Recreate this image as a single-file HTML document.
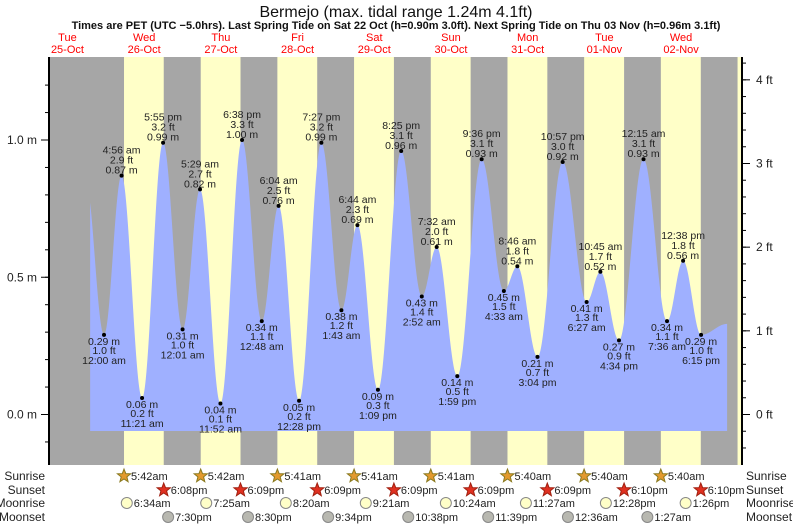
<!DOCTYPE html>
<html><head><meta charset="utf-8"><style>
body{margin:0;background:#fff;}
svg{display:block;font-family:"Liberation Sans",sans-serif;}
</style></head><body>
<svg id="c" width="793" height="525" xmlns="http://www.w3.org/2000/svg">
<text x="396" y="17" text-anchor="middle" font-size="16" fill="#111">Bermejo (max. tidal range 1.24m 4.1ft)</text>
<text x="396" y="29" text-anchor="middle" font-size="11" font-weight="bold" fill="#111">Times are PET (UTC −5.0hrs). Last Spring Tide on Sat 22 Oct (h=0.90m 3.0ft). Next Spring Tide on Thu 03 Nov (h=0.96m 3.1ft)</text>
<g id="bands"></g><g id="fill"></g><g id="marks"></g><g id="axes"></g><g id="bottom"></g>
</svg>
<script>
// data (times as hours since Wed 26-Oct 00:00)
const dayNames=["Tue","Wed","Thu","Fri","Sat","Sun","Mon","Tue","Wed"];
const dayDates=["25-Oct","26-Oct","27-Oct","28-Oct","29-Oct","30-Oct","31-Oct","01-Nov","02-Nov"];
const tideTimes=[-6.3,-0.56,4.93,11.35,17.92,24.02,29.48,35.87,42.63,48.8,54.07,60.47,67.45,73.72,78.73,85.15,92.42,98.87,103.53,109.98,117.6,124.55,128.77,135.07,142.95,150.45,154.75,160.57,168.25,175.6,180.63,186.25,194.4];
const tideValues=[0.85,0.29,0.87,0.06,0.99,0.31,0.82,0.04,1.00,0.34,0.76,0.05,0.99,0.38,0.69,0.09,0.96,0.43,0.61,0.14,0.93,0.45,0.54,0.21,0.92,0.41,0.52,0.27,0.93,0.34,0.56,0.29,0.33];
const tideLabels=["","12:00 am","4:56 am","11:21 am","5:55 pm","12:01 am","5:29 am","11:52 am","6:38 pm","12:48 am","6:04 am","12:28 pm","7:27 pm","1:43 am","6:44 am","1:09 pm","8:25 pm","2:52 am","7:32 am","1:59 pm","9:36 pm","4:33 am","8:46 am","3:04 pm","10:57 pm","6:27 am","10:45 am","4:34 pm","12:15 am","7:36 am","12:38 pm","6:15 pm",""];
const sunrise=[5.70,5.70,5.68,5.68,5.68,5.68,5.67,5.67,5.67];
const sunset=[18.13,18.15,18.15,18.15,18.15,18.15,18.17,18.17];
const sunriseLbl=["5:42am","5:42am","5:41am","5:41am","5:41am","5:40am","5:40am","5:40am"];
const sunsetLbl=["6:08pm","6:09pm","6:09pm","6:09pm","6:09pm","6:09pm","6:10pm","6:10pm"];
const moonrise=[6.57,31.42,56.33,81.35,106.4,131.45,156.47,181.43];
const moonriseLbl=["6:34am","7:25am","8:20am","9:21am","10:24am","11:27am","12:28pm","1:26pm"];
const moonset=[19.5,44.5,69.57,94.63,119.65,144.6,169.45];
const moonsetLbl=["7:30pm","8:30pm","9:34pm","10:38pm","11:39pm","12:36am","1:27am"];
const mTicks=[0,0.5,1.0];const mTickLbl=["0.0 m","0.5 m","1.0 m"];
const ftTicks=[0,1,2,3,4];const ftTickLbl=["0 ft","1 ft","2 ft","3 ft","4 ft"];

const L=49,R=742,T=57,B=465;
const X=t=>105.8+t*3.196;
const Y=m=>414.5-m*274.5;
const NS="http://www.w3.org/2000/svg";
function mk(p,tag,at){const e=document.createElementNS(NS,tag);for(const k in at)e.setAttribute(k,at[k]);p.appendChild(e);return e;}
const svg=document.getElementById('c');
const bands=document.getElementById('bands'),fill=document.getElementById('fill'),marks=document.getElementById('marks'),axes=document.getElementById('axes'),bottom=document.getElementById('bottom');

// background
let bg=mk(bands,'rect',{x:L,y:T,width:R-L,height:B-T,fill:'#a6a6a6'});


for(let d=0;d<8;d++){
  const x1=X(d*24+sunrise[d]),x2=X(d*24+sunset[d]);
  const r=mk(bands,'rect',{x:x1,y:T,width:x2-x1,height:B-T,fill:'#ffffc8'});
  
  
}
{const x1=X(8*24+sunrise[8]);const r=mk(bands,'rect',{x:x1,y:T,width:R-x1,height:B-T,fill:'#ffffc8'});

}

// day labels
for(let i=0;i<dayNames.length;i++){
  const cx=X((i-1)*24+12);
  const t1=mk(svg,'text',{x:cx,y:41,'text-anchor':'middle','font-size':11,fill:'#f00'});t1.textContent=dayNames[i];
  
  
  const t2=mk(svg,'text',{x:cx,y:53,'text-anchor':'middle','font-size':11,fill:'#f00'});t2.textContent=dayDates[i];
  
  
}

// tide curve
const t0=-4.9,t1=tideTimes[tideTimes.length-1];
function val(t){
  for(let i=0;i<tideTimes.length-1;i++){
    if(t>=tideTimes[i]&&t<=tideTimes[i+1]){
      const f=(t-tideTimes[i])/(tideTimes[i+1]-tideTimes[i]);
      return tideValues[i]+(tideValues[i+1]-tideValues[i])*(1-Math.cos(Math.PI*f))/2;
    }
  }return tideValues[tideValues.length-1];
}
let d=`M${X(t0)},${Y(-0.06)}`;
for(let t=t0;t<=t1;t+=0.1)d+=` L${X(t).toFixed(2)},${Y(val(t)).toFixed(2)}`;
d+=` L${X(t1)},${Y(val(t1))} L${X(t1)},${Y(-0.06)} Z`;
const area=mk(fill,'path',{d:d,fill:'#9fb0ff'});



// extreme labels
for(let i=1;i<tideTimes.length-1;i++){
  const x=X(tideTimes[i]),y=Y(tideValues[i]);
  const high=tideValues[i]>tideValues[i-1];
  const dot=mk(marks,'circle',{cx:x,cy:y,r:2,fill:'#000'});
  
  
  const mv=tideValues[i].toFixed(2)+' m',fv=(tideValues[i]/0.3048).toFixed(1)+' ft';
  const lines=high?[[tideLabels[i],-22],[fv,-12],[mv,-2]]:[[mv,10],[fv,19],[tideLabels[i],29]];
  for(const [s,dy] of lines){
    const tx=mk(marks,'text',{x:x,y:y+dy,'text-anchor':'middle','font-size':10.5,fill:'#222'});tx.textContent=s;
    
    
  }
}

// axes
const la=mk(axes,'line',{x1:L,y1:T,x2:L,y2:B,stroke:'#000','stroke-width':2});


const ra=mk(axes,'line',{x1:R,y1:T,x2:R,y2:B,stroke:'#000','stroke-width':2});


for(let v=-0.1;v<=1.25;v+=0.1){const y=Y(v);if(y<T)continue;mk(axes,'line',{x1:L-4,y1:y,x2:L,y2:y,stroke:'#000'});}
mTicks.forEach((v,i)=>{const y=Y(v);mk(axes,'line',{x1:L-8,y1:y,x2:L,y2:y,stroke:'#000'});
  const t=mk(axes,'text',{x:L-12,y:y+4,'text-anchor':'end','font-size':12,fill:'#222'});t.textContent=mTickLbl[i];
  
  });
for(let f=-0.4;f<=4.3;f+=0.2){const y=Y(f*0.3048);if(y<T||y>B)continue;mk(axes,'line',{x1:R,y1:y,x2:R+4,y2:y,stroke:'#000'});}
ftTicks.forEach((v,i)=>{const y=Y(v*0.3048);mk(axes,'line',{x1:R,y1:y,x2:R+8,y2:y,stroke:'#000'});
  const t=mk(axes,'text',{x:R+14,y:y+4,'font-size':12,fill:'#222'});t.textContent=ftTickLbl[i];
  
  });

// bottom rows
const rows=[["Sunrise",480],["Sunset",494],["Moonrise",507],["Moonset",521]];
rows.forEach(([n,y])=>{
  const a=mk(bottom,'text',{x:45,y:y,'text-anchor':'end','font-size':12,fill:'#222'});a.textContent=n;
  
  
  const b=mk(bottom,'text',{x:746,y:y,'font-size':12,fill:'#222'});b.textContent=n;
  
  
});
function star(cx,cy,fillc,stroke){let p='';for(let k=0;k<10;k++){const r=k%2?3:7;const a=-Math.PI/2+k*Math.PI/5;p+=(cx+r*Math.cos(a)).toFixed(1)+','+(cy+r*Math.sin(a)).toFixed(1)+' ';}
  return mk(bottom,'polygon',{points:p,fill:fillc,stroke:stroke,'stroke-width':1});}
function ev(x,y,lbl,kind){
  let ic;
  if(kind==='sunrise')ic=star(x,y-4,'#e39a2e','#8a7a20');
  else if(kind==='sunset')ic=star(x,y-4,'#e03020','#a02010');
  else ic=mk(bottom,'circle',{cx:x,cy:y-4,r:5.5,fill:kind==='moonrise'?'#ffffc8':'#b8b8b0',stroke:'#888'});
  
  
  const t=mk(bottom,'text',{x:x+7,y:y,'font-size':11,fill:'#222'});t.textContent=lbl;
  
  
}
for(let i=0;i<8;i++){ev(X(i*24+sunrise[i]),480,sunriseLbl[i],'sunrise');ev(X(i*24+sunset[i]),494,sunsetLbl[i],'sunset');}
moonrise.forEach((t,i)=>ev(X(t),507,moonriseLbl[i],'moonrise'));
moonset.forEach((t,i)=>ev(X(t),521,moonsetLbl[i],'moonset'));
</script>
</body></html>
